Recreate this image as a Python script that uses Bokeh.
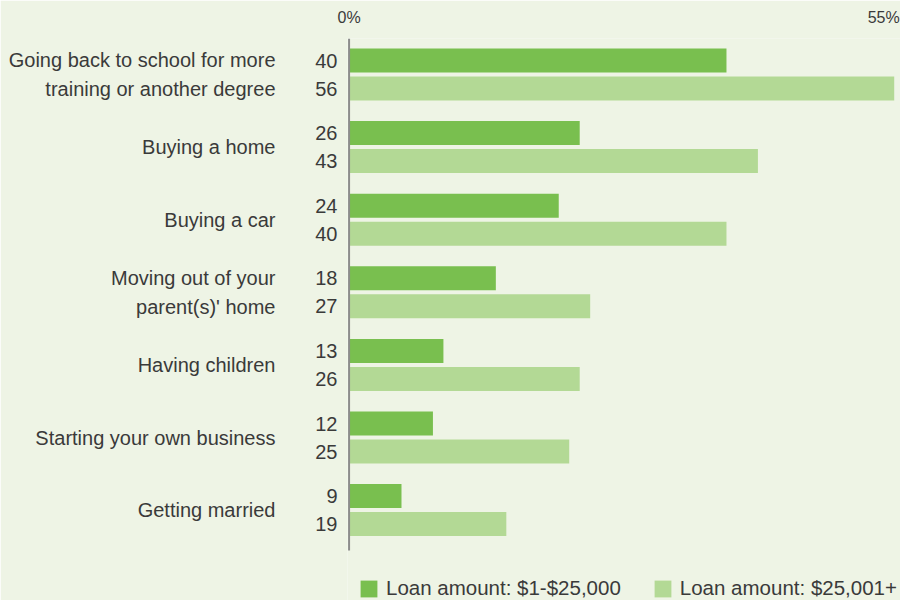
from bokeh.plotting import figure
from bokeh.models import Range1d, FixedTicker, LinearAxis, Legend, LegendItem, ColumnDataSource
from bokeh.embed import file_html
from bokeh.resources import INLINE

# ---- data ----
categories = [
    "Going back to school for more\ntraining or another degree",
    "Buying a home",
    "Buying a car",
    "Moving out of your\nparent(s)' home",
    "Having children",
    "Starting your own business",
    "Getting married",
]
small_loans = [40, 26, 24, 18, 13, 12, 9]
large_loans = [56, 43, 40, 27, 26, 25, 19]
series_names = ["Loan amount: $1-$25,000", "Loan amount: $25,001+"]
x_tick_values = [0, 55]
x_tick_labels = ["0%", "55%"]

# ---- style / layout constants ----
BG = "#eef4e5"
DARK = "#79bf4f"
LIGHT = "#b3d995"
TEXT = "#3a3a3a"
AXIS = "#8c8c8c"
FONT = "Liberation Sans"
PITCH = 726      # vertical units per category group
OFFSET = 280     # offset of second bar within group
BAR_H = 240
BAR_BASE = 4     # bars start at the axis line
Y_TOP = -220     # top of plotting area
Y_AXIS_END = 4900  # where the vertical axis line stops
Y_BOTTOM = 5400  # bottom of the page (room for the legend)

n = len(categories)
y_small = [PITCH * i for i in range(n)]
y_large = [PITCH * i + OFFSET for i in range(n)]
y_center = [PITCH * i + OFFSET // 2 for i in range(n)]

src = ColumnDataSource(dict(
    y_small=y_small, y_large=y_large,
    small=small_loans, large=large_loans,
    base=[BAR_BASE] * n,
))

p = figure(width=900, height=600, output_backend="svg", toolbar_location=None,
           x_range=Range1d(BAR_BASE - 0.15, 56.6), y_range=Range1d(Y_BOTTOM, Y_TOP),
           x_axis_location="above",
           min_border_left=347, min_border_right=0, min_border_top=38, min_border_bottom=0)
p.background_fill_color = BG
p.border_fill_color = BG
p.outline_line_color = None
p.grid.visible = False

r1 = p.hbar(y="y_small", left="base", right="small", height=BAR_H, source=src,
            fill_color=DARK, line_color=None)
r2 = p.hbar(y="y_large", left="base", right="large", height=BAR_H, source=src,
            fill_color=LIGHT, line_color=None)

# vertical axis line
p.segment(x0=[BAR_BASE], y0=[Y_TOP], x1=[BAR_BASE], y1=[Y_AXIS_END],
          line_color=AXIS, line_width=2)

# top axis
xa = p.xaxis[0]
tick_pos = [max(t, BAR_BASE) for t in x_tick_values]
xa.ticker = FixedTicker(ticks=tick_pos)
xa.major_label_overrides = {tp: lab for tp, lab in zip(tick_pos, x_tick_labels)}
xa.axis_line_color = None
xa.major_tick_line_color = None
xa.minor_tick_line_color = None
xa.major_tick_in = 0
xa.major_tick_out = 0
xa.major_label_standoff = 13
xa.major_label_text_font = FONT
xa.major_label_text_font_size = "16px"
xa.major_label_text_color = TEXT

# value axis (nearest frame)
ya = p.yaxis[0]
ya.ticker = FixedTicker(ticks=y_small + y_large)
ov = {}
for y, v in zip(y_small, small_loans):
    ov[y] = str(v)
for y, v in zip(y_large, large_loans):
    ov[y] = str(v)
ya.major_label_overrides = ov
ya.axis_line_color = None
ya.major_tick_line_color = None
ya.minor_tick_line_color = None
ya.major_tick_in = 0
ya.major_tick_out = 0
ya.major_label_standoff = 10
ya.major_label_text_font = FONT
ya.major_label_text_font_size = "20px"
ya.major_label_text_color = TEXT

# category axis
ca = LinearAxis(ticker=FixedTicker(ticks=y_center))
ca.major_label_overrides = {y: c for y, c in zip(y_center, categories)}
ca.axis_line_color = None
ca.major_tick_line_color = None
ca.minor_tick_line_color = None
ca.major_tick_in = 0
ca.major_tick_out = 0
ca.major_label_standoff = 37
ca.major_label_text_font = FONT
ca.major_label_text_font_size = "20px"
ca.major_label_text_color = TEXT
ca.major_label_text_line_height = 1.3
p.add_layout(ca, "left")

legend = Legend(items=[LegendItem(label=series_names[0], renderers=[r1]),
                       LegendItem(label=series_names[1], renderers=[r2])],
                orientation="horizontal", location=(11, 0))
legend.glyph_width = 21
legend.glyph_height = 21
legend.label_standoff = 7
legend.spacing = 31
legend.padding = 0
legend.margin = 0
legend.border_line_color = None
legend.background_fill_alpha = 0
legend.label_text_font = FONT
legend.label_text_font_size = "20.5px"
legend.label_text_color = TEXT
p.add_layout(legend, "center")

open("out.html", "w").write(file_html(p, INLINE))
